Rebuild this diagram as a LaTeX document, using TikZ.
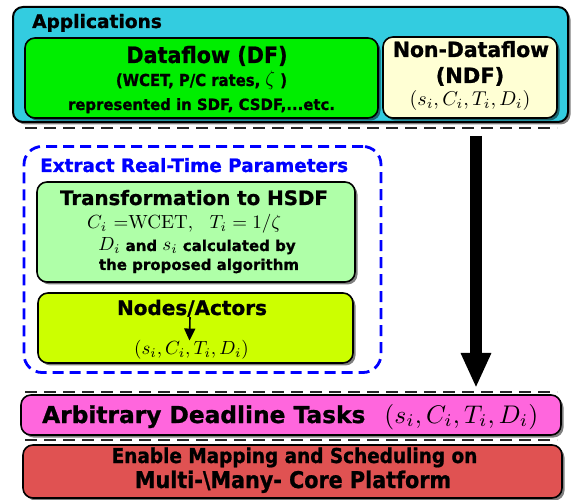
\documentclass[tikz,border=0pt]{standalone}
\usepackage{graphicx}
\usepackage[no-math]{fontspec}
\setmainfont{DejaVu Sans}[BoldFeatures={FakeBold=1}]
\newfontfamily\narrowfont{DejaVu Sans}[FakeStretch=0.9,BoldFeatures={FakeBold=1}]
\usetikzlibrary{arrows.meta,shadows}
\newcommand{\fsize}[1]{\fontsize{#1}{#1}\selectfont}
\newcommand{\squeeze}[2]{\scalebox{#1}[1]{#2}}
\newcommand{\bigmath}[2]{\scalebox{#1}{\fontsize{10}{12}\selectfont$#2$}}
\definecolor{appcyan}{RGB}{51,204,224}
\definecolor{dfgreen}{RGB}{0,238,0}
\definecolor{ndfcream}{RGB}{255,255,212}
\definecolor{hsdfgreen}{RGB}{175,255,168}
\definecolor{actorlime}{RGB}{204,255,0}
\definecolor{extblue}{RGB}{0,0,255}
\definecolor{taskpink}{RGB}{255,102,221}
\definecolor{platred}{RGB}{224,82,82}

\begin{document}
\begin{tikzpicture}[x=1pt,y=-1pt,
  box/.style={draw=black,line width=1.6pt,rounded corners=10pt,inner sep=0pt},
  boxshadow/.style={drop shadow={shadow xshift=2.5pt,shadow yshift=-2.5pt,opacity=0.5,fill=black}},
  txt/.style={anchor=base,inner sep=0pt,font=\bfseries},
  sepline/.style={draw=black!85,line width=2pt,dash pattern=on 12pt off 7pt}]
\useasboundingbox (0,0) rectangle (574,500);
\node[box,boxshadow,fill=appcyan,line width=2pt,minimum width=555pt,minimum height=115pt] (apps) at (290.5,64.5) {};
\node[txt,anchor=base west] (appstitle) at (32,28) {\fsize{18.6}Applications};
\node[box,boxshadow,fill=dfgreen,minimum width=353pt,minimum height=80pt] (df) at (201.5,78) {};
\node[txt] (dftitle) at (207,63) {\fsize{22.5}\squeeze{0.92}{Dataflow (DF)}};
\node[txt] (dfparams) at (201.5,86) {\fsize{16.5}\squeeze{0.9}{(WCET, P/C rates, \bigmath{2.1}{\zeta} )}};
\node[txt] (dfmodels) at (201.5,110) {\fsize{15.5}\squeeze{0.96}{represented in SDF, CSDF,...etc.}};
\node[box,boxshadow,fill=ndfcream,minimum width=174pt,minimum height=81pt] (ndf) at (470,77.5) {};
\node[txt] (ndftitle) at (471,57) {\fsize{21}\squeeze{0.97}{Non-Dataflow}};
\node[txt] (ndfabbr) at (470,83) {\fsize{21}(NDF)};
\node[txt] (ndfparams) at (470,106) {\bigmath{2}{(s_i,C_i,T_i,D_i)}};
\draw[sepline] (25,128) -- (557,128);

\node[draw=extblue,line width=2.8pt,dash pattern=on 11pt off 6pt,rounded corners=18pt,minimum width=357pt,minimum height=226pt] (extract) at (202.5,259.5) {};
\node[txt,anchor=base west,text=extblue] (extracttitle) at (40,172) {\fsize{18.4}Extract Real-Time Parameters};
\node[box,boxshadow,fill=hsdfgreen,minimum width=318pt,minimum height=100pt] (hsdf) at (196,232) {};
\node[txt] (hsdftitle) at (194,205) {\fsize{19.8}Transformation to HSDF};
\node[txt,anchor=base west] (hsdfct) at (87,229) {\bigmath{1.9}{C_i\ {=}\mathrm{WCET},\ \ T_i = 1/\zeta}};
\node[txt] (hsdfds) at (197,251) {\fsize{15}\bigmath{1.9}{D_i} and \bigmath{1.9}{s_i} calculated by};
\node[txt] (hsdfalgo) at (199,270) {\fsize{15}the proposed algorithm};
\node[box,boxshadow,fill=actorlime,minimum width=315pt,minimum height=70pt] (actors) at (195.5,328) {};
\node[txt] (actorstitle) at (192,315) {\fsize{20}Nodes/Actors};
\node[txt] (actorsparams) at (191.5,355) {\bigmath{1.9}{(s_i,C_i,T_i,D_i)}};
\draw[line width=1.6pt,-{Triangle[width=11pt,length=12pt]}] ([xshift=-2pt]actorstitle.south) -- ([xshift=-2pt]actorsparams.north);

\coordinate (flowstart) at (476,136);
\coordinate (flowend) at (476,388);
\draw[line width=12pt,-{Triangle[width=28pt,length=35pt]}] (flowstart) -- (flowend);

\draw[sepline] (25,392) -- (557,392);
\node[box,boxshadow,fill=taskpink,minimum width=540pt,minimum height=40pt] (tasks) at (291,415) {};
\node[txt,anchor=base west] (taskstext) at (42,423) {\fsize{23.3}Arbitrary Deadline Tasks\hspace{19pt}\bigmath{2.55}{(s_i,C_i,T_i,D_i)}};
\draw[sepline] (25,440) -- (557,440);
\node[box,boxshadow,fill=platred,minimum width=539pt,minimum height=53pt] (platform) at (292.5,471.5) {};
\node[txt] (platformtop) at (294.5,463) {\narrowfont\fsize{20.5}Enable Mapping and Scheduling on};
\node[txt] (platformbottom) at (293,488) {\narrowfont\fsize{23}Multi-\textbackslash Many- Core Platform};
\end{tikzpicture}
\end{document}
